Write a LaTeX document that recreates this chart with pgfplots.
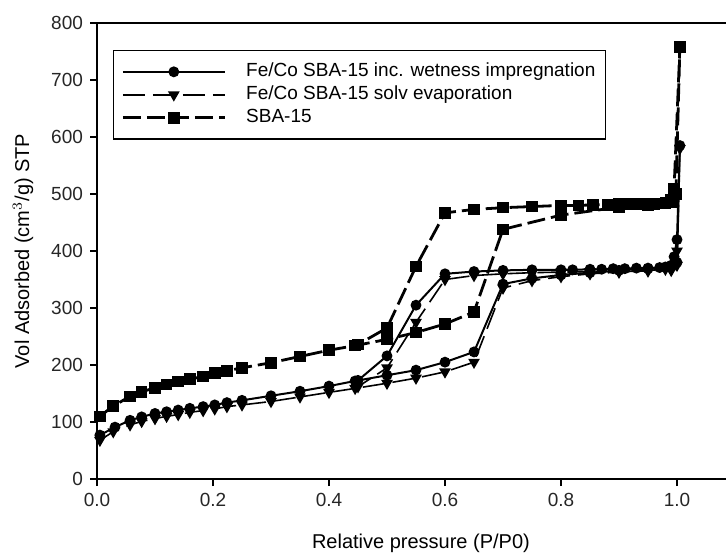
\documentclass[border=0pt]{standalone}
\usepackage{fontspec}
\setmainfont{Liberation Sans}
\usepackage{pgfplots}
\pgfplotsset{compat=1.18}

% 1 px of the reference = 0.5pt here
\begin{document}
\begin{tikzpicture}
\path[use as bounding box] (-48.5pt,-37pt) rectangle (314.5pt,239.5pt);
\begin{axis}[
    scale only axis,
    width=314.5pt, height=228pt,
    xmin=0, xmax=1.0845,
    ymin=0, ymax=800,
    axis x line*=box,
    axis y line*=left,
    axis line style={line width=1.3pt},
    tick align=outside,
    xtick pos=bottom, ytick pos=left,
    major tick length=3.5pt,
    every tick/.style={line width=1.2pt, black},
    xtick={0,0.2,0.4,0.6,0.8,1.0},
    ytick={0,100,...,800},
    xticklabel style={/pgf/number format/.cd, fixed, fixed zerofill, precision=1},
    /pgf/number format/assume math mode=true,
    tick label style={font=\fontsize{9.5}{11}\selectfont, text=black!85},
    label style={font=\fontsize{9}{11}\selectfont, text=black!85},
    xlabel={Relative pressure (P/P0)},
    ylabel={Vol Adsorbed (cm$^3$/g) STP},
    every axis x label/.style={at={(rel axis cs:0.515,0)}, anchor=center, yshift=-32pt},
    every axis y label/.style={at={(rel axis cs:0,0.5)}, anchor=center, rotate=90, yshift=37pt},
    legend style={at={(rel axis cs:0.025,0.941)}, anchor=north west,
        draw=black, line width=0.7pt, font=\fontsize{9.5}{11}\selectfont,
        inner xsep=4pt, inner ysep=5pt, row sep=0.3pt,
        nodes={text height=7pt, text depth=2.2pt, inner sep=1pt},
        /tikz/every odd column/.append style={column sep=9pt}},
    legend cell align=left,
    legend image code/.code={\draw[mark repeat=2,mark phase=2,#1]
        plot coordinates {(0pt,0pt) (25.5pt,0pt) (51pt,0pt)};},
]
% Fe/Co SBA-15 inc. wetness impregnation
\addplot[black, line width=1pt, mark=*, mark size=2.2pt] coordinates {
(0.005,77) (0.031,91) (0.057,103) (0.077,109) (0.10,115) (0.12,118) (0.14,121)
(0.16,124) (0.183,127) (0.203,130) (0.224,134) (0.25,138) (0.30,146) (0.35,154)
(0.40,163) (0.445,172) (0.50,182) (0.55,191) (0.60,205) (0.65,223) (0.70,342)
(0.75,352) (0.80,358) (0.85,362) (0.90,366) (0.95,369) (0.98,372) (0.99,375)
(0.995,390) (1.0,420) (1.005,585)
(1.0,380) (0.99,372) (0.97,371) (0.95,370) (0.93,370) (0.91,369) (0.89,369)
(0.87,368) (0.85,368) (0.82,367) (0.80,367) (0.75,367) (0.70,366) (0.65,364)
(0.60,360) (0.55,305) (0.50,216) (0.45,173)
};
\addlegendentry{Fe/Co SBA-15 inc. wetness impregnation\hspace{7pt}}
% Fe/Co SBA-15 solv evaporation
\addplot[black, line width=0.8pt, dash pattern=on 11pt off 4pt,
    mark=triangle*, mark size=2.6pt, mark options={solid, rotate=180}] coordinates {
(0.005,68) (0.028,83) (0.057,95) (0.077,101) (0.10,106) (0.12,110) (0.14,113)
(0.16,117) (0.183,120) (0.203,123) (0.224,127) (0.25,130) (0.30,136) (0.35,144)
(0.40,152) (0.445,159) (0.50,168) (0.55,177) (0.60,188) (0.65,205) (0.70,335)
(0.75,348) (0.80,355) (0.85,360) (0.90,363) (0.95,366) (0.98,368) (0.99,372)
(1.0,400) (1.005,580)
(1.0,375) (0.99,366) (0.95,365) (0.90,364) (0.85,364) (0.80,363) (0.75,362)
(0.70,360) (0.65,357) (0.60,350) (0.55,275) (0.50,195) (0.45,162)
};
\addlegendentry{Fe/Co SBA-15 solv evaporation}
% SBA-15
\addplot[black, line width=1.4pt, dash pattern=on 9pt off 3pt,
    mark=square*, mark size=2.2pt, mark options={solid}] coordinates {
(0.005,110) (0.028,128) (0.057,145) (0.077,153) (0.10,160) (0.12,166) (0.14,171)
(0.16,175) (0.183,180) (0.203,186) (0.224,190) (0.25,195) (0.30,204) (0.35,215)
(0.40,226) (0.445,234) (0.50,245) (0.55,257) (0.60,272) (0.65,293) (0.70,438)
(0.80,463) (0.90,477) (0.95,481) (0.98,484) (0.99,490) (0.995,510) (1.005,758)
(0.998,500) (0.99,485) (0.98,484) (0.96,483) (0.94,483) (0.92,482) (0.90,482)
(0.88,481) (0.855,481) (0.83,480) (0.80,480) (0.75,478) (0.70,476) (0.65,473)
(0.60,467) (0.55,373) (0.50,265) (0.45,236)
};
\addlegendentry{SBA-15}
\end{axis}
\end{tikzpicture}
\end{document}
